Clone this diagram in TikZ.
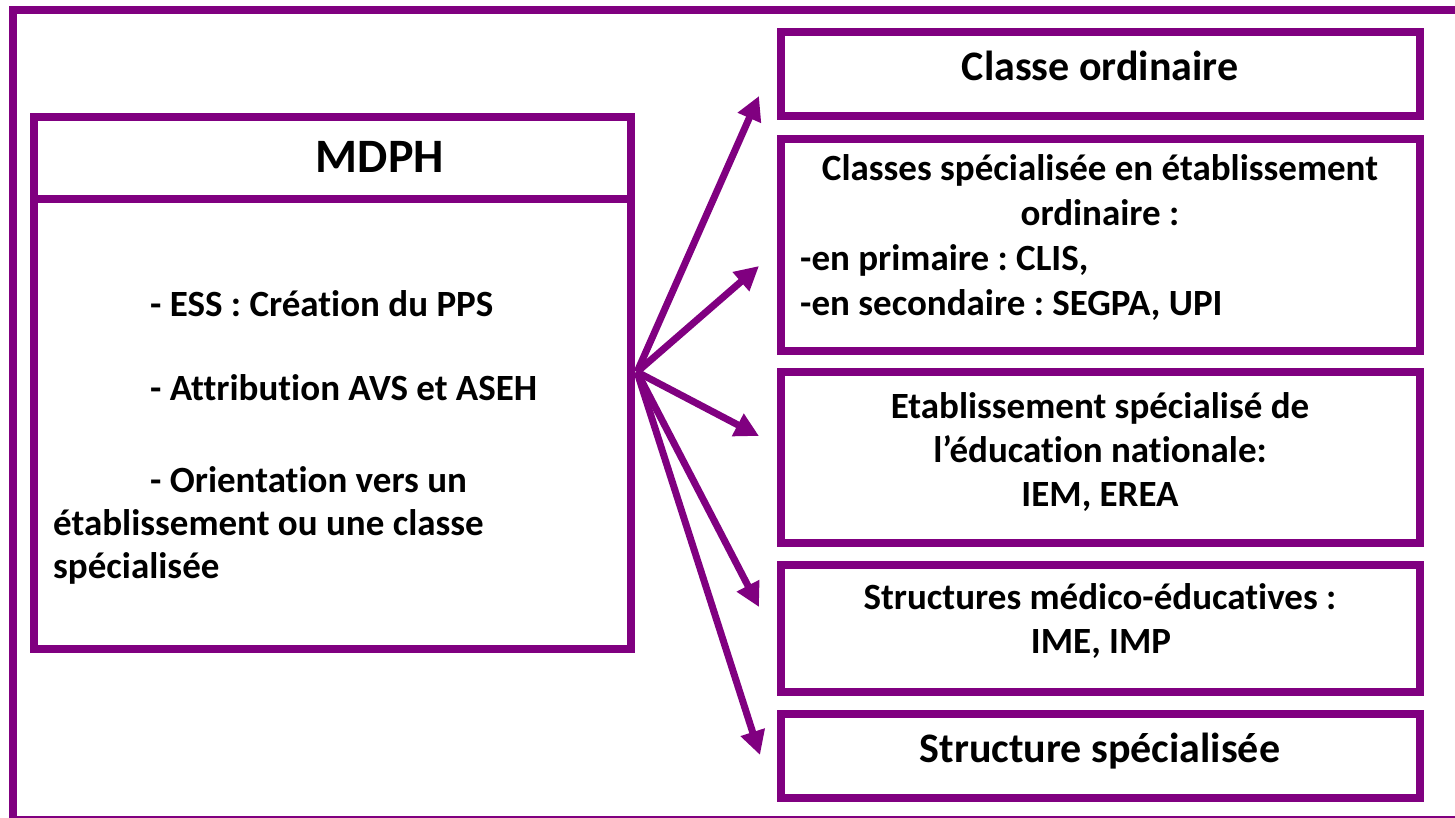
\documentclass[tikz,border=0pt]{standalone}
\usepackage{fontspec}
\setmainfont{Carlito}[Ligatures=NoCommon]
\usetikzlibrary{arrows.meta}
\definecolor{plum}{RGB}{128,0,128}
\newcommand{\fs}[1]{\fontsize{#1}{1.2\dimexpr#1pt\relax}\selectfont\bfseries\frenchspacing}
\begin{document}
\begin{tikzpicture}[x=1pt,y=-1pt,
  edge/.style={draw=plum, line width=8pt},
  txt/.style={inner sep=0pt, anchor=base},
  txtl/.style={inner sep=0pt, anchor=base west},
  link/.style={draw=plum, line width=7pt, -{Triangle[length=24pt,width=24pt]}}]

\path[use as bounding box, clip] (0,0) rectangle (1455,818);

% outer frame (runs past the right and bottom edges)
\draw[edge] (13,10) rectangle (1470,820);

% MDPH box with its title band
\draw[edge] (34,117) rectangle (631,649);
\draw[edge] (34,199) -- (631,199);
\node[txt] (mdph) at (380,173) {\fs{48}MDPH};
\node[txtl] (ess) at (150,316) {\fs{37}- ESS : Création du PPS};
\node[txtl] (avs) at (150,400) {\fs{37}- Attribution AVS et ASEH};
\node[txtl] (ori1) at (150,492) {\fs{37}- Orientation vers un};
\node[txtl] (ori2) at (53,535) {\fs{37}établissement ou une classe};
\node[txtl] (ori3) at (53,578) {\fs{37}spécialisée};

% destination boxes
\draw[edge] (781,32) rectangle (1420,116);
\draw[edge] (781,139) rectangle (1420,351);
\draw[edge] (781,372) rectangle (1420,543);
\draw[edge] (781,565) rectangle (1420,692);
\draw[edge] (781,714) rectangle (1420,798);

\node[txt] (b1) at (1100,81) {\fs{42}Classe ordinaire};

\node[txt] (b2a) at (1100,181) {\fs{37}Classes spécialisée en établissement};
\node[txt] (b2b) at (1100,226) {\fs{37}ordinaire :};
\node[txtl] (b2c) at (800,270) {\fs{37}-en primaire : CLIS,};
\node[txtl] (b2d) at (800,315) {\fs{37}-en secondaire : SEGPA, UPI};

\node[txt] (b3a) at (1100,418) {\fs{37}Etablissement spécialisé de};
\node[txt] (b3b) at (1100,462) {\fs{37}l’éducation nationale:};
\node[txt] (b3c) at (1100,506) {\fs{37}IEM, EREA};

\node[txt] (b4a) at (1100,609) {\fs{37}Structures médico-éducatives :};
\node[txt] (b4b) at (1101,653) {\fs{37}IME, IMP};

\node[txt] (b5) at (1100,762) {\fs{42}Structure spécialisée};

% arrows fanning out from the MDPH box
\coordinate (hub) at (637,372);
\coordinate (t1) at (759,96);
\coordinate (t2) at (759,266);
\coordinate (t3) at (759,436);
\coordinate (t4) at (759,607);
\coordinate (t5) at (760,755);
\foreach \t in {t1,t2,t3,t4,t5}
  \draw[link] (hub) -- (\t);
\end{tikzpicture}
\end{document}
